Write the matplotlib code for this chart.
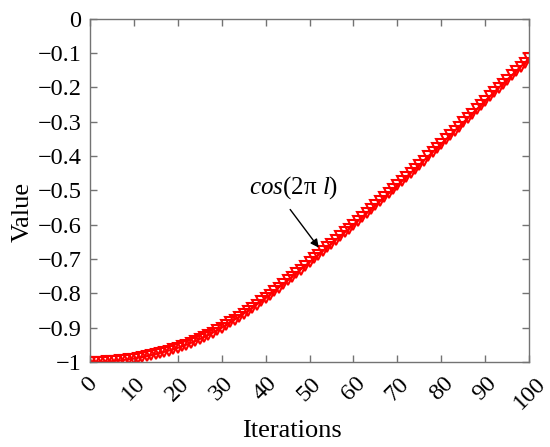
import matplotlib
matplotlib.use("Agg")
import matplotlib.pyplot as plt

iterations = list(range(0, 101))
values = [
    -1.0000, -0.9999, -0.9996, -0.9991, -0.9985, -0.9977, -0.9966, -0.9953, -0.9938, -0.9920,
    -0.9900, -0.9878, -0.9854, -0.9828, -0.9800, -0.9770, -0.9738, -0.9704, -0.9668, -0.9630,
    -0.9590, -0.9545, -0.9497, -0.9446, -0.9392, -0.9335, -0.9275, -0.9212, -0.9146, -0.9077,
    -0.9005, -0.8927, -0.8847, -0.8765, -0.8681, -0.8595, -0.8507, -0.8418, -0.8328, -0.8236,
    -0.8143, -0.8041, -0.7938, -0.7834, -0.7730, -0.7625, -0.7520, -0.7414, -0.7308, -0.7201,
    -0.7094, -0.6987, -0.6879, -0.6771, -0.6662, -0.6553, -0.6444, -0.6334, -0.6224, -0.6114,
    -0.6003, -0.5891, -0.5778, -0.5665, -0.5551, -0.5437, -0.5322, -0.5206, -0.5090, -0.4973,
    -0.4856, -0.4737, -0.4618, -0.4498, -0.4378, -0.4257, -0.4136, -0.4014, -0.3892, -0.3769,
    -0.3646, -0.3522, -0.3398, -0.3273, -0.3148, -0.3023, -0.2897, -0.2771, -0.2645, -0.2519,
    -0.2392, -0.2269, -0.2146, -0.2023, -0.1900, -0.1777, -0.1654, -0.1531, -0.1408, -0.1285,
    -0.1162,
]
xticks = [0, 10, 20, 30, 40, 50, 60, 70, 80, 90, 100]
yticks = [0, -0.1, -0.2, -0.3, -0.4, -0.5, -0.6, -0.7, -0.8, -0.9, -1]
ytick_labels = ["0", "\u22120.1", "\u22120.2", "\u22120.3", "\u22120.4", "\u22120.5",
                "\u22120.6", "\u22120.7", "\u22120.8", "\u22120.9", "\u22121"]
xlabel = "Iterations"
ylabel = "Value"
annotation = r"$\mathit{cos}$(2π $\mathit{l}$)"

plt.rcParams['font.family'] = ['Liberation Serif', 'DejaVu Serif']
plt.rcParams['mathtext.fontset'] = 'custom'
plt.rcParams['mathtext.rm'] = 'Liberation Serif'
plt.rcParams['mathtext.it'] = 'Liberation Serif:italic'

fig = plt.figure(figsize=(5.5, 4.47), dpi=100)
ax = fig.add_axes([0.1631, 0.1902, 0.7993, 0.7684])

ax.plot(iterations, values, color='red', lw=1.5, marker='v', markersize=6.5,
        markerfacecolor='none', markeredgecolor='red', markeredgewidth=1.5)

ax.set_xlim(0, 100)
ax.set_ylim(-1, 0)
ax.set_xticks(xticks)
ax.set_xticklabels([str(t) for t in xticks], rotation=45, ha='center', va='top')
ax.set_yticks(yticks)
ax.set_yticklabels(ytick_labels)

axis_color = '0.45'
for s in ax.spines.values():
    s.set_color(axis_color)
    s.set_linewidth(1.0)
ax.tick_params(direction='in', length=5, width=1.0, color=axis_color,
               labelsize=17.5, labelcolor='black', top=True, right=True)
ax.tick_params(axis='x', pad=8)
ax.tick_params(axis='y', pad=6)

ax.set_xlabel(xlabel, fontsize=19)
ax.set_ylabel(ylabel, fontsize=19)
ax.xaxis.set_label_coords(0.46, -0.168)
ax.yaxis.set_label_coords(-0.128, 0.437)

ax.text(46.3, -0.491, annotation, fontsize=18, ha='center', va='center')
ax.annotate('', xy=(52.1, -0.667), xytext=(45.6, -0.556),
            arrowprops=dict(arrowstyle='-|>', color='black', lw=1.0,
                            shrinkA=0, shrinkB=0, mutation_scale=12))

fig.savefig('out.png', dpi=100)
